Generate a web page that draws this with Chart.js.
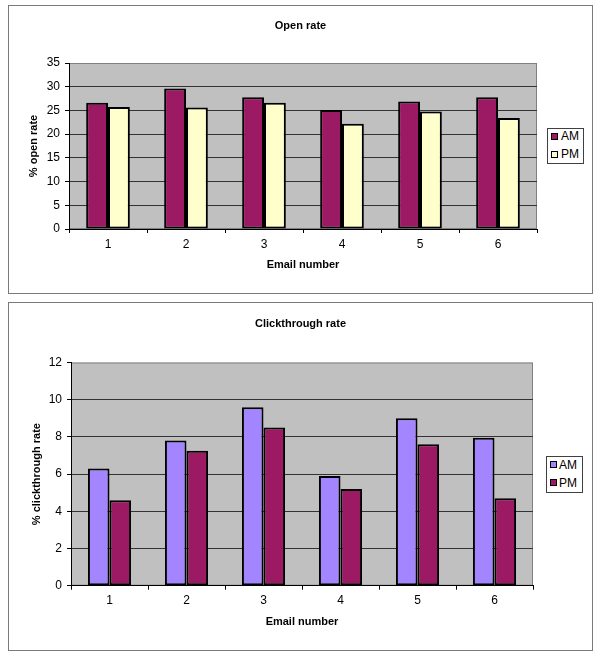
<!DOCTYPE html>
<html>
<head>
<meta charset="utf-8">
<script src="https://cdn.jsdelivr.net/npm/chart.js@4.4.1/dist/chart.umd.min.js"></script>
<style>
  body { margin: 0; background: #fff; font-family: "Liberation Sans", Arial, sans-serif; }
  .box { position: absolute; border: 1px solid #7a7a7a; box-sizing: border-box; background: #fff; }
  .box canvas { position: absolute; left: 0; top: 0; }
  .title { position: absolute; left: 0; width: 100%; text-align: center; font-size: 11px; font-weight: bold; line-height: 14px; color: #000; }
  .legend { position: absolute; border: 1px solid #404040; box-sizing: border-box; background: #fff; font-size: 12px; color: #000; }
  .legend .sw { position: absolute; width: 7px; height: 7px; border: 1px solid #000; box-sizing: border-box; }
  .legend .tx { position: absolute; line-height: 14px; white-space: nowrap; }
</style>
</head>
<body>
<div class="box" id="box1" style="left:8px;top:5px;width:585px;height:289px;">
  <canvas id="openchart" width="583" height="287"></canvas>
  <div class="title" id="title1" style="top:12px;"></div>
  <div class="legend" id="legend1" style="left:538px;top:122px;width:37px;height:36px;"></div>
</div>
<div class="box" id="box2" style="left:8px;top:302px;width:585px;height:349px;">
  <canvas id="clickchart" width="583" height="347"></canvas>
  <div class="title" id="title2" style="top:13px;"></div>
  <div class="legend" id="legend2" style="left:537px;top:153px;width:37px;height:37px;"></div>
</div>
<script>
var emailNumbers = ['1', '2', '3', '4', '5', '6'];
var seriesNames = ['AM', 'PM'];

var openAM = [26.6, 29.6, 27.8, 25.1, 26.9, 27.8];
var openPM = [25.7, 25.6, 26.6, 22.2, 24.8, 23.4];
var openMax = 35;
var openStep = 5;

var clickAM = [6.3, 7.8, 9.6, 5.9, 9.0, 7.95];
var clickPM = [4.6, 7.25, 8.5, 5.2, 7.6, 4.7];
var clickMax = 12;
var clickStep = 2;

var FONT = 'Liberation Sans';

// grey plot area with a thin border, like the old Excel charts
var plotBackground = {
  id: 'plotBackground',
  beforeDraw: function (chart) {
    var a = chart.chartArea;
    var ctx = chart.ctx;
    ctx.save();
    ctx.fillStyle = '#c0c0c0';
    ctx.fillRect(a.left, a.top, a.right - a.left, a.bottom - a.top);
    ctx.strokeStyle = '#808080';
    ctx.lineWidth = 1;
    ctx.strokeRect(a.left + 0.5, a.top + 0.5, a.right - a.left - 1, a.bottom - a.top - 1);
    ctx.restore();
  }
};

function buildLegend(id, colors, rows) {
  var el = document.getElementById(id);
  for (var i = 0; i < seriesNames.length; i++) {
    var sw = document.createElement('div');
    sw.className = 'sw';
    sw.style.left = rows.swLeft + 'px';
    sw.style.top = rows.swTop[i] + 'px';
    sw.style.background = colors[i];
    el.appendChild(sw);
    var tx = document.createElement('div');
    tx.className = 'tx';
    tx.style.left = rows.txLeft + 'px';
    tx.style.top = rows.txTop[i] + 'px';
    tx.textContent = seriesNames[i];
    el.appendChild(tx);
  }
}

function makeChart(id, opts) {
  var ctx = document.getElementById(id);
  document.getElementById(opts.titleId).textContent = opts.title;
  return new Chart(ctx, {
    type: 'bar',
    data: {
      labels: emailNumbers,
      datasets: [
        {
          label: seriesNames[0],
          data: opts.am,
          backgroundColor: opts.colors[0],
          borderColor: '#000',
          borderWidth: 2,
          borderSkipped: false,
          barPercentage: 1,
          categoryPercentage: 0.56
        },
        {
          label: seriesNames[1],
          data: opts.pm,
          backgroundColor: opts.colors[1],
          borderColor: '#000',
          borderWidth: 2,
          borderSkipped: false,
          barPercentage: 1,
          categoryPercentage: 0.56
        }
      ]
    },
    options: {
      responsive: false,
      animation: false,
      devicePixelRatio: 1,
      layout: { padding: { left: 0, right: opts.padRight, top: opts.padTop, bottom: opts.padBottom } },
      plugins: {
        legend: { display: false },
        tooltip: { enabled: false },
        title: { display: false }
      },
      scales: {
        x: {
          offset: true,
          grid: { display: true, drawOnChartArea: false, drawTicks: true, tickLength: 4, tickColor: '#000', offset: true },
          border: { display: true, color: '#000', width: 1 },
          ticks: { color: '#000', padding: 4, font: { family: FONT, size: 12 } },
          title: {
            display: true,
            text: 'Email number',
            color: '#000',
            font: { family: FONT, size: 11, weight: 'bold', lineHeight: 1.2 },
            padding: { top: 0, bottom: opts.xTitleBottom }
          },
          afterFit: function (scale) { scale.height = 50; }
        },
        y: {
          min: 0,
          max: opts.max,
          ticks: { stepSize: opts.step, color: '#000', padding: 5, font: { family: FONT, size: 12 } },
          grid: {
            color: function (c) { return c.tick && c.tick.value === opts.max ? 'rgba(0,0,0,0)' : '#333'; },
            lineWidth: 1,
            tickLength: 4,
            tickColor: '#000'
          },
          border: { display: true, color: '#000', width: 1 },
          title: {
            display: true,
            text: opts.yTitle,
            color: '#000',
            font: { family: FONT, size: 11, weight: 'bold', lineHeight: 1.2 },
            padding: { top: opts.yTitleTop, bottom: 0 }
          },
          afterFit: function (scale) { scale.width = opts.yWidth; }
        }
      }
    },
    plugins: [plotBackground]
  });
}

var openColors = ['#9c1a64', '#ffffcc'];
var clickColors = ['#a385ff', '#9c1a64'];

makeChart('openchart', {
  title: 'Open rate',
  titleId: 'title1',
  yTitle: '% open rate',
  am: openAM,
  pm: openPM,
  colors: openColors,
  max: openMax,
  step: openStep,
  padRight: 55,
  padTop: 57,
  padBottom: 14,
  xTitleBottom: 7.4,
  yTitleTop: 18.4,
  yWidth: 60
});

makeChart('clickchart', {
  title: 'Clickthrough rate',
  titleId: 'title2',
  yTitle: '% clickthrough rate',
  am: clickAM,
  pm: clickPM,
  colors: clickColors,
  max: clickMax,
  step: clickStep,
  padRight: 59,
  padTop: 59.5,
  padBottom: 14.3,
  xTitleBottom: 7.1,
  yTitleTop: 20.9,
  yWidth: 62
});

buildLegend('legend1', openColors, { swLeft: 3, swTop: [4, 22], txLeft: 13, txTop: [0, 18] });
buildLegend('legend2', clickColors, { swLeft: 3, swTop: [4, 22], txLeft: 12, txTop: [1, 19] });
</script>
</body>
</html>
